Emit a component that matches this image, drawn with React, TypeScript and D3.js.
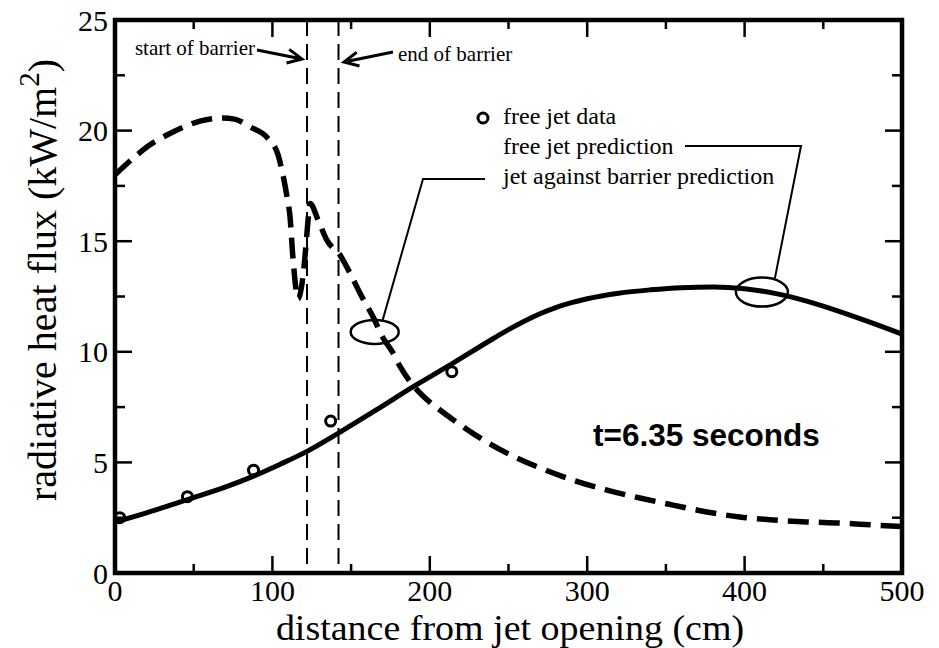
import React from 'react';
import * as d3 from 'd3';

// Axis ticks
const xTicks = [0, 100, 200, 300, 400, 500];
const xMinorTicks = [50, 150, 250, 350, 450];
const yTicks = [0, 5, 10, 15, 20, 25];
const yMinorTicks = [2.5, 7.5, 12.5, 17.5, 22.5];

// Measured free jet data (distance cm, flux kW/m^2)
const dataDistance = [3, 46, 88, 137, 214];
const dataFlux = [2.5, 3.45, 4.65, 6.87, 9.1];

// Free jet prediction
const freeDistance = [0, 20, 45, 70, 88, 105, 122, 143, 166, 189, 214, 238, 250, 260, 270, 280, 290, 300, 320, 340, 360, 380, 400, 420, 440, 460, 480, 500];
const freeFlux = [2.3, 2.72, 3.3, 3.88, 4.38, 4.92, 5.5, 6.37, 7.37, 8.4, 9.45, 10.5, 11.0, 11.38, 11.72, 12.0, 12.22, 12.4, 12.65, 12.8, 12.9, 12.93, 12.85, 12.63, 12.28, 11.83, 11.33, 10.8];

// Jet against barrier prediction
const barrierDistance = [0, 11.7, 22, 33, 43.5, 54, 68, 76, 86, 97, 103.6, 106.7, 109.3, 111.2, 113, 116.4, 120.7, 122, 124, 129, 134.6, 143, 149.3, 155.6, 164, 170, 176.6, 181, 188, 195.7, 205, 215, 227.6, 238, 249, 270, 291, 312.6, 333.5, 354.5, 376, 397, 418, 439.6, 460.6, 481.6, 500];
const barrierFlux = [18.0, 18.76, 19.35, 19.8, 20.16, 20.43, 20.57, 20.52, 20.16, 19.66, 18.9, 18.0, 17.0, 16.1, 14.3, 12.4, 14.3, 15.4, 16.7, 15.96, 15.05, 14.37, 13.56, 12.66, 11.57, 10.67, 9.95, 9.35, 8.6, 8.0, 7.45, 6.92, 6.3, 5.85, 5.42, 4.75, 4.2, 3.75, 3.39, 3.07, 2.76, 2.53, 2.4, 2.31, 2.26, 2.17, 2.1];

// Barrier extent (cm)
const barrierStart = 122;
const barrierEnd = 142;

// Callout ellipses (data coordinates of their centres)
const freeCallout = [411, 12.7];
const barrierCallout = [165, 10.9];

const W = 939;
const H = 648;
const left = 115;
const right = 902;
const top = 20;
const bottom = 573;

const serif = '"Liberation Serif", "Times New Roman", serif';
const sans = '"Liberation Sans", Arial, sans-serif';

function arrowHead(tail: [number, number], tip: [number, number], len = 16, ang = 0.45) {
  const a = Math.atan2(tip[1] - tail[1], tip[0] - tail[0]);
  const p1 = [tip[0] - len * Math.cos(a - ang), tip[1] - len * Math.sin(a - ang)];
  const p2 = [tip[0] - len * Math.cos(a + ang), tip[1] - len * Math.sin(a + ang)];
  return `M${tail[0]},${tail[1]}L${tip[0]},${tip[1]}M${p1[0]},${p1[1]}L${tip[0]},${tip[1]}L${p2[0]},${p2[1]}`;
}

export default function App() {
  const x = d3.scaleLinear().domain([0, 500]).range([left, right]);
  const y = d3.scaleLinear().domain([0, 25]).range([bottom, top]);

  const line = d3
    .line<[number, number]>()
    .x((d) => x(d[0]))
    .y((d) => y(d[1]))
    .curve(d3.curveMonotoneX);

  const freePts = freeDistance.map((d, i) => [d, freeFlux[i]] as [number, number]);
  const barrierPts = barrierDistance.map((d, i) => [d, barrierFlux[i]] as [number, number]);

  const fcx = x(freeCallout[0]);
  const fcy = y(freeCallout[1]);
  const bcx = x(barrierCallout[0]);
  const bcy = y(barrierCallout[1]);

  return (
    <svg
      width={W}
      height={H}
      viewBox={`0 0 ${W} ${H}`}
      style={{ position: 'absolute', left: 0, top: 0, background: '#fff' }}
    >
      <rect x={0} y={0} width={W} height={H} fill="#fff" />

      {/* barrier boundaries */}
      {[barrierStart, barrierEnd].map((b) => (
        <line
          key={b}
          x1={x(b)}
          x2={x(b)}
          y1={top}
          y2={bottom}
          stroke="#000"
          strokeWidth={2}
          strokeDasharray="16,8"
        />
      ))}

      {/* predictions */}
      <path d={line(freePts) || ''} fill="none" stroke="#000" strokeWidth={5} strokeLinejoin="round" />
      <path
        d={line(barrierPts) || ''}
        fill="none"
        stroke="#000"
        strokeWidth={5.5}
        strokeDasharray="21,10"
      />

      {/* data */}
      {dataDistance.map((d, i) => (
        <circle key={i} cx={x(d)} cy={y(dataFlux[i])} r={5} fill="none" stroke="#000" strokeWidth={3} />
      ))}

      {/* frame */}
      <rect x={left} y={top} width={right - left} height={bottom - top} fill="none" stroke="#000" strokeWidth={4.5} />

      {/* ticks */}
      {xTicks.map((t) => (
        <g key={'xt' + t}>
          <line x1={x(t)} x2={x(t)} y1={bottom} y2={bottom - 17} stroke="#000" strokeWidth={2.5} />
          <line x1={x(t)} x2={x(t)} y1={top} y2={top + 17} stroke="#000" strokeWidth={2.5} />
          <text x={x(t)} y={601} textAnchor="middle" fontFamily={serif} fontSize={30} fill="#000">
            {t}
          </text>
        </g>
      ))}
      {xMinorTicks.map((t) => (
        <g key={'xm' + t}>
          <line x1={x(t)} x2={x(t)} y1={bottom} y2={bottom - 9} stroke="#000" strokeWidth={2.5} />
          <line x1={x(t)} x2={x(t)} y1={top} y2={top + 9} stroke="#000" strokeWidth={2.5} />
        </g>
      ))}
      {yTicks.map((t) => (
        <g key={'yt' + t}>
          <line x1={left} x2={left + 17} y1={y(t)} y2={y(t)} stroke="#000" strokeWidth={2.5} />
          <line x1={right} x2={right - 17} y1={y(t)} y2={y(t)} stroke="#000" strokeWidth={2.5} />
          <text x={108} y={y(t) + 10.5} textAnchor="end" fontFamily={serif} fontSize={30} fill="#000">
            {t}
          </text>
        </g>
      ))}
      {yMinorTicks.map((t) => (
        <g key={'ym' + t}>
          <line x1={left} x2={left + 10} y1={y(t)} y2={y(t)} stroke="#000" strokeWidth={2.5} />
          <line x1={right} x2={right - 10} y1={y(t)} y2={y(t)} stroke="#000" strokeWidth={2.5} />
        </g>
      ))}

      {/* axis titles */}
      <text
        transform="translate(510,640) scale(1.055,1)"
        textAnchor="middle"
        fontFamily={serif}
        fontSize={36}
        fill="#000"
      >
        distance from jet opening (cm)
      </text>
      <text
        transform="translate(56,280) rotate(-90)"
        textAnchor="middle"
        fontFamily={serif}
        fontSize={40}
        fill="#000"
      >
        radiative heat flux (kW/m
        <tspan dy={-17} fontSize={29}>2</tspan>
        <tspan dy={17}>)</tspan>
      </text>

      {/* barrier annotations */}
      <text x={255} y={55} textAnchor="end" fontFamily={serif} fontSize={21} fill="#000">
        start of barrier
      </text>
      <path d={arrowHead([257, 50], [302, 59])} fill="none" stroke="#000" strokeWidth={3} />
      <text x={398} y={61} fontFamily={serif} fontSize={21} fill="#000">
        end of barrier
      </text>
      <path d={arrowHead([393, 52], [344, 62])} fill="none" stroke="#000" strokeWidth={3} />

      {/* legend */}
      <circle cx={483} cy={118} r={5} fill="none" stroke="#000" strokeWidth={3} />
      <text x={503} y={124} fontFamily={serif} fontSize={24} fill="#000">
        free jet data
      </text>
      <text x={503} y={154} fontFamily={serif} fontSize={24} fill="#000">
        free jet prediction
      </text>
      <text x={503} y={184} fontFamily={serif} fontSize={24} fill="#000">
        jet against barrier prediction
      </text>

      {/* callouts */}
      <path d={`M685,146L801,146L${fcx + 13},${fcy - 14}`} fill="none" stroke="#000" strokeWidth={2} />
      <ellipse cx={fcx} cy={fcy} rx={26} ry={14.5} fill="none" stroke="#000" strokeWidth={2.5} />
      <path d={`M485,179L423,179L${bcx + 8},${bcy - 12}`} fill="none" stroke="#000" strokeWidth={2} />
      <ellipse cx={bcx} cy={bcy} rx={24} ry={12} fill="none" stroke="#000" strokeWidth={2.5} />

      <text x={593} y={446} fontFamily={sans} fontWeight="bold" fontSize={31.5} fill="#000">
        t=6.35 seconds
      </text>
    </svg>
  );
}
